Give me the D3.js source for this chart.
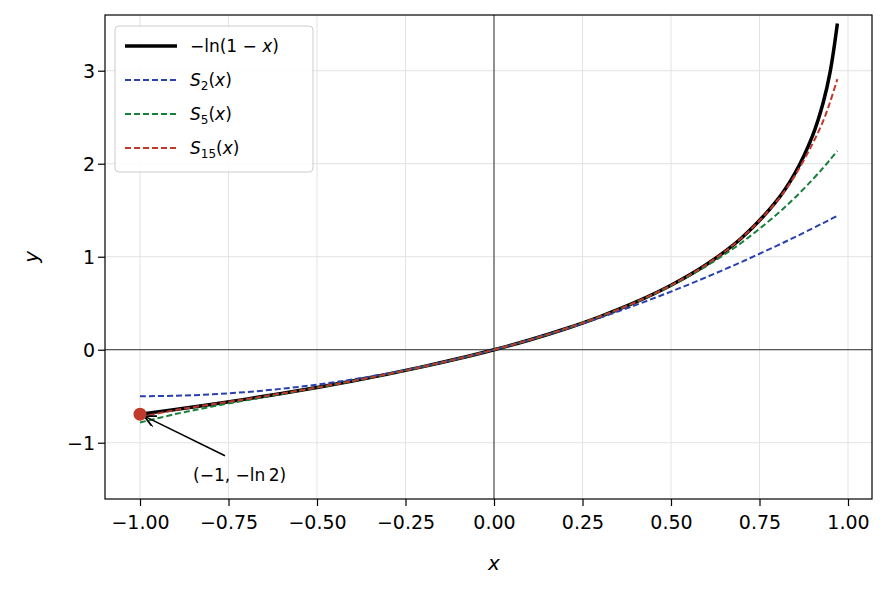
<!DOCTYPE html>
<html><head><meta charset="utf-8">
<script src="https://cdn.jsdelivr.net/npm/d3@7"></script>
<style>body{margin:0;background:#fff}text{font-family:"DejaVu Sans",sans-serif}</style>
</head><body><div id="chart"></div>
<script>
const width = 892, height = 592;
const margin = {top:15, right:20, bottom:93, left:105};

// sample points
const xs    = [-1,-0.9,-0.8,-0.7,-0.6,-0.5,-0.4,-0.3,-0.2,-0.1,0,0.1,0.2,0.3,0.4,0.5,0.6,0.7,0.8,0.85,0.9,0.93,0.95,0.97];
const exact = [-0.693,-0.642,-0.588,-0.531,-0.470,-0.406,-0.337,-0.262,-0.182,-0.095,0,0.105,0.223,0.357,0.511,0.693,0.916,1.204,1.609,1.897,2.303,2.659,2.996,3.507];
const s2    = [-0.5,-0.495,-0.48,-0.455,-0.42,-0.375,-0.32,-0.255,-0.18,-0.095,0,0.105,0.22,0.345,0.48,0.625,0.78,0.945,1.12,1.211,1.305,1.362,1.401,1.44];
const s5    = [-0.783,-0.692,-0.614,-0.543,-0.475,-0.407,-0.337,-0.263,-0.182,-0.095,0,0.105,0.223,0.357,0.510,0.689,0.9,1.153,1.459,1.635,1.830,1.957,2.046,2.138];
const s15   = [-0.725,-0.649,-0.589,-0.531,-0.470,-0.406,-0.337,-0.262,-0.182,-0.095,0,0.105,0.223,0.357,0.511,0.693,0.916,1.204,1.602,1.872,2.216,2.46,2.67,2.91];
const xTicks = [-1,-0.75,-0.5,-0.25,0,0.25,0.5,0.75,1];
const yTicks = [-1,0,1,2,3];
const series = [
  {name:"S2", sub:"2", vals:s2, color:"#2a3fb0"},
  {name:"S5", sub:"5", vals:s5, color:"#17803a"},
  {name:"S15", sub:"15", vals:s15, color:"#c0392b"}
];

const svg = d3.select("#chart").append("svg").attr("width", width).attr("height", height);
const x = d3.scaleLinear().domain([-1.0989, 1.0678]).range([margin.left, width - margin.right]);
const y = d3.scaleLinear().domain([-1.605, 3.599]).range([height - margin.bottom, margin.top]);

// grid
svg.append("g").selectAll("line").data(xTicks).join("line")
  .attr("x1", d => x(d)).attr("x2", d => x(d)).attr("y1", y.range()[0]).attr("y2", y.range()[1])
  .attr("stroke", "#e3e3e3").attr("stroke-width", 1);
svg.append("g").selectAll("line").data(yTicks).join("line")
  .attr("y1", d => y(d)).attr("y2", d => y(d)).attr("x1", x.range()[0]).attr("x2", x.range()[1])
  .attr("stroke", "#e3e3e3").attr("stroke-width", 1);

// zero lines
svg.append("line").attr("x1", x(0)).attr("x2", x(0)).attr("y1", y.range()[0]).attr("y2", y.range()[1]).attr("stroke", "#000").attr("stroke-width", 0.8);
svg.append("line").attr("y1", y(0)).attr("y2", y(0)).attr("x1", x.range()[0]).attr("x2", x.range()[1]).attr("stroke", "#000").attr("stroke-width", 0.8);

const line = d3.line().x((d, i) => x(xs[i])).y(d => y(d)).curve(d3.curveCatmullRom);
svg.append("path").attr("d", line(exact)).attr("fill", "none").attr("stroke", "#000").attr("stroke-width", 3.5);
series.forEach(s => {
  svg.append("path").attr("d", line(s.vals)).attr("fill", "none")
    .attr("stroke", s.color).attr("stroke-width", 2).attr("stroke-dasharray", "6,3");
});

// axes
const xAxis = svg.append("g").attr("transform", `translate(0,${height - margin.bottom})`)
  .call(d3.axisBottom(x).tickValues(xTicks).tickFormat(d => d3.format(".2f")(d).replace("-", "−")).tickSizeOuter(0).tickSize(7));
const yAxis = svg.append("g").attr("transform", `translate(${margin.left},0)`)
  .call(d3.axisLeft(y).tickValues(yTicks).tickFormat(d => String(d).replace("-", "−")).tickSizeOuter(0).tickSize(7));
[xAxis, yAxis].forEach(a => {
  a.attr("font-size", null).attr("font-family", null);
  a.selectAll("text").style("font-size", "19px").attr("fill", "#000");
  a.selectAll(".tick line").attr("stroke", "#000").attr("stroke-width", 1.2);
  a.select(".domain").remove();
});
xAxis.selectAll("text").attr("dy", "1.05em");
yAxis.selectAll("text").attr("dy", "0.36em").attr("x", -10);
svg.append("rect").attr("x", x.range()[0]).attr("y", margin.top).attr("width", x.range()[1] - x.range()[0])
  .attr("height", y.range()[0] - margin.top).attr("fill", "none").attr("stroke", "#000").attr("stroke-width", 1.2);

svg.append("text").attr("x", x(0)).attr("y", 570).attr("text-anchor", "middle").style("font-size", "20px").attr("font-style", "italic").text("x");
svg.append("text").attr("transform", `translate(38,${y(1)}) rotate(-90)`).attr("text-anchor", "middle").style("font-size", "20px").attr("font-style", "italic").text("y");

// annotation
svg.append("defs").append("marker").attr("id", "arr").attr("viewBox", "0 0 10 10").attr("refX", 9).attr("refY", 5)
  .attr("markerWidth", 8).attr("markerHeight", 8).attr("orient", "auto")
  .append("path").attr("d", "M0,0 L10,5 L0,10").attr("fill", "none").attr("stroke", "#000").attr("stroke-width", 1.5);
svg.append("line").attr("x1", x(-0.76)).attr("y1", y(-1.14)).attr("x2", x(-0.985)).attr("y2", y(-0.72))
  .attr("stroke", "#000").attr("stroke-width", 1.5).attr("marker-end", "url(#arr)");
svg.append("circle").attr("cx", x(xs[0])).attr("cy", y(exact[0])).attr("r", 6.5).attr("fill", "#c0392b");
svg.append("text").attr("x", 193).attr("y", 481).style("font-size", "17px").text("(−1, −ln\u20092)");

// legend
const lg = svg.append("g");
lg.append("rect").attr("x", 115).attr("y", 26).attr("width", 198).attr("height", 146).attr("rx", 4)
  .attr("fill", "#fff").attr("fill-opacity", 0.85).attr("stroke", "#ccc");
lg.append("line").attr("x1", 125).attr("x2", 177).attr("y1", 46).attr("y2", 46).attr("stroke", "#000").attr("stroke-width", 3.5);
lg.append("text").attr("x", 190).attr("y", 52).style("font-size", "17px").html('−ln(1 − <tspan font-style="italic">x</tspan>)');
series.forEach((s, i) => {
  const yy = 46 + 34 * (i + 1);
  lg.append("line").attr("x1", 125).attr("x2", 177).attr("y1", yy).attr("y2", yy).attr("stroke", s.color).attr("stroke-width", 2).attr("stroke-dasharray", "6,3");
  lg.append("text").attr("x", 190).attr("y", yy + 6).style("font-size", "17px")
    .html(`<tspan font-style="italic">S</tspan><tspan font-size="12" dy="4">${s.sub}</tspan><tspan dy="-4">(</tspan><tspan font-style="italic">x</tspan>)`);
});
</script></body></html>
